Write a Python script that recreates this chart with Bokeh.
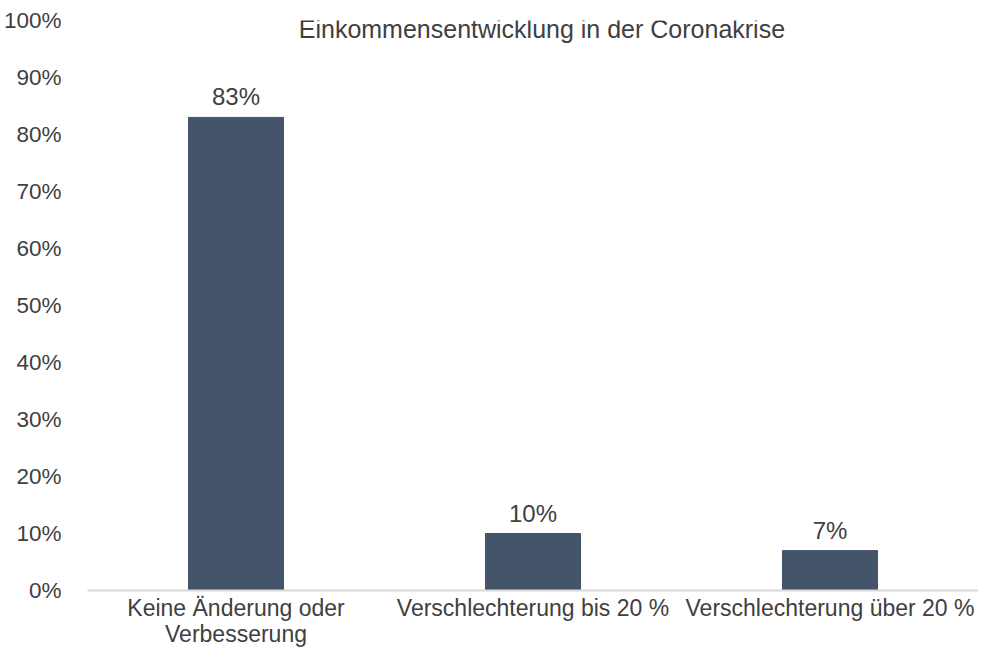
from bokeh.plotting import figure
from bokeh.models import ColumnDataSource, FactorRange, Range1d, NumeralTickFormatter, LabelSet, Label, FixedTicker
from bokeh.core.properties import value
from bokeh.embed import file_html
from bokeh.resources import INLINE

title_text = "Einkommensentwicklung in der Coronakrise"
categories = ["Keine Änderung oder\nVerbesserung", "Verschlechterung bis 20 %", "Verschlechterung über 20 %"]
values = [0.83, 0.10, 0.07]
value_labels = ["83%", "10%", "7%"]
y_ticks = [0.0, 0.1, 0.2, 0.3, 0.4, 0.5, 0.6, 0.7, 0.8, 0.9, 1.0]

FONT = "Liberation Sans"
TEXT = "#404040"
BAR = "#44546A"

src = ColumnDataSource(dict(cat=categories, val=values, lab=value_labels))

p = figure(x_range=FactorRange(*categories, range_padding=0), y_range=Range1d(0, 1.0),
           width=978, height=649, output_backend="svg", toolbar_location=None,
           min_border_left=80, min_border_right=0, min_border_top=20, min_border_bottom=55)
p.outline_line_color = None
p.background_fill_color = "white"
p.border_fill_color = "white"
p.xgrid.grid_line_color = None
p.ygrid.grid_line_color = None

p.vbar(x="cat", top="val", width=0.32, source=src, fill_color=BAR, line_color=BAR)

labels = LabelSet(x="cat", y="val", text="lab", source=src, text_align="center",
                  text_baseline="alphabetic", y_offset=12, text_font=value(FONT),
                  text_font_size=value("24px"), text_color=TEXT)
p.add_layout(labels)

p.add_layout(Label(x=1.53, y=1.0, y_offset=-8, text=title_text, text_align="center",
                   text_baseline="alphabetic", text_font=FONT, text_font_size="25px",
                   text_color=TEXT))

p.yaxis.ticker = FixedTicker(ticks=y_ticks)
p.yaxis.formatter = NumeralTickFormatter(format="0%")
p.yaxis.axis_line_color = None
p.yaxis.major_tick_line_color = None
p.yaxis.minor_tick_line_color = None
p.yaxis.major_label_standoff = 20
p.yaxis.major_label_text_font = FONT
p.yaxis.major_label_text_font_size = "22.5px"
p.yaxis.major_label_text_color = TEXT

p.xaxis.axis_line_color = "#D9D9D9"
p.xaxis.axis_line_width = 2
p.xaxis.major_tick_line_color = None
p.xaxis.minor_tick_line_color = None
p.xaxis.major_tick_out = 0
p.xaxis.major_label_standoff = 4
p.xaxis.major_label_text_font = FONT
p.xaxis.major_label_text_font_size = "23px"
p.xaxis.major_label_text_color = TEXT
p.xaxis.major_label_text_line_height = 1.0

open("out.html", "w").write(file_html(p, INLINE))
